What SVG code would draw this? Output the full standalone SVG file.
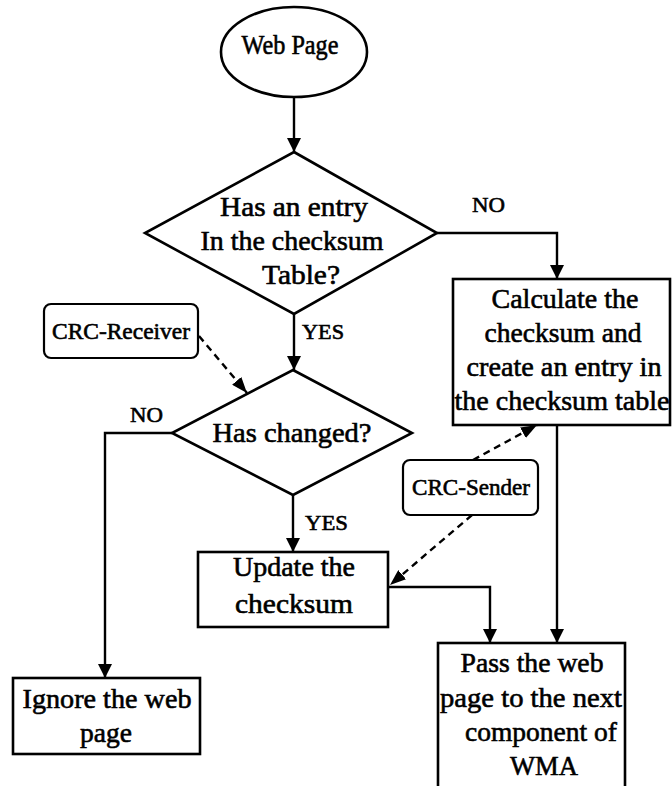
<svg xmlns="http://www.w3.org/2000/svg" width="672" height="786" viewBox="0 0 672 786">
  <style>
    .shape { fill: #fff; stroke: #000; stroke-width: 2.6; }
    .tag { fill: #fff; stroke: #000; stroke-width: 2.2; }
    text { font-family: 'Liberation Serif', 'Times New Roman', serif; fill: #000; stroke: #000; stroke-width: 0.6; }
    .txt { font-size: 28px; text-anchor: middle; }
    .small { font-size: 23px; }
    .lbl { font-size: 22px; }
    .flow { fill: none; stroke: #000; stroke-width: 2.4; marker-end: url(#head); }
    .dash { fill: none; stroke: #000; stroke-width: 2.4; stroke-dasharray: 7 5; marker-end: url(#dhead); }
  </style>
  <defs>
    <marker id="head" viewBox="0 0 14 14" refX="14" refY="7" markerWidth="14" markerHeight="14" markerUnits="userSpaceOnUse" orient="auto">
      <path d="M0,0 L14,7 L0,14 z" fill="#000" stroke="none"/>
    </marker>
    <marker id="dhead" viewBox="0 0 16 12" refX="16" refY="6" markerWidth="16" markerHeight="12" markerUnits="userSpaceOnUse" orient="auto">
      <path d="M0,0 L16,6 L0,12 z" fill="#000" stroke="none"/>
    </marker>
  </defs>

  <!-- connectors and their branch labels -->
  <g id="connectors">
    <path class="flow" d="M294,97 L294,152"/>
    <path class="flow" d="M437,233 L557,233 L557,279"/>
    <path class="flow" d="M294,314 L294,370"/>
    <path class="flow" d="M172,433 L105,433 L105,678"/>
    <path class="flow" d="M293,495 L293,552"/>
    <path class="flow" d="M388,587 L490,587 L490,643"/>
    <path class="flow" d="M557,425 L557,643"/>
    <path class="dash" d="M199,336 L247,393"/>
    <path class="dash" d="M473,460 L537,425"/>
    <path class="dash" d="M472,515 L390,585"/>
    <text class="lbl" x="472" y="212" textLength="33" lengthAdjust="spacingAndGlyphs">NO</text>
    <text class="lbl" x="302" y="339" textLength="42" lengthAdjust="spacingAndGlyphs">YES</text>
    <text class="lbl" x="130" y="422" textLength="33" lengthAdjust="spacingAndGlyphs">NO</text>
    <text class="lbl" x="305" y="530" textLength="43" lengthAdjust="spacingAndGlyphs">YES</text>
  </g>

  <g id="start">
    <ellipse class="shape" cx="294" cy="52" rx="73" ry="45"/>
    <text class="txt" x="290" y="54" font-size="24" textLength="97" lengthAdjust="spacingAndGlyphs">Web Page</text>
  </g>

  <g id="has-entry">
    <polygon class="shape" points="294,152 437,233 294,314 145,233"/>
    <text class="txt" x="294" y="216" textLength="148" lengthAdjust="spacingAndGlyphs">Has an entry</text>
    <text class="txt" x="292" y="250" textLength="183" lengthAdjust="spacingAndGlyphs">In the checksum</text>
    <text class="txt" x="301" y="284" textLength="78" lengthAdjust="spacingAndGlyphs">Table?</text>
  </g>

  <g id="calculate">
    <rect class="shape" x="453" y="279" width="217" height="146"/>
    <text class="txt" x="565" y="308" textLength="147" lengthAdjust="spacingAndGlyphs">Calculate the</text>
    <text class="txt" x="563" y="342" textLength="157" lengthAdjust="spacingAndGlyphs">checksum and</text>
    <text class="txt" x="564" y="376" textLength="195" lengthAdjust="spacingAndGlyphs">create an entry in</text>
    <text class="txt" x="562" y="410" textLength="215" lengthAdjust="spacingAndGlyphs">the checksum table</text>
  </g>

  <g id="crc-receiver">
    <rect class="tag" x="44" y="304" width="154" height="54" rx="7"/>
    <text class="txt small" x="121" y="339" textLength="138" lengthAdjust="spacingAndGlyphs">CRC-Receiver</text>
  </g>

  <g id="has-changed">
    <polygon class="shape" points="293,370 412,433 293,495 172,433"/>
    <text class="txt" x="292" y="442" textLength="159" lengthAdjust="spacingAndGlyphs">Has changed?</text>
  </g>

  <g id="crc-sender">
    <rect class="tag" x="403" y="460" width="135" height="55" rx="7"/>
    <text class="txt small" x="471" y="495" textLength="118" lengthAdjust="spacingAndGlyphs">CRC-Sender</text>
  </g>

  <g id="update">
    <rect class="shape" x="198" y="552" width="190" height="75"/>
    <text class="txt" x="294" y="576" textLength="122" lengthAdjust="spacingAndGlyphs">Update the</text>
    <text class="txt" x="294" y="613" textLength="118" lengthAdjust="spacingAndGlyphs">checksum</text>
  </g>

  <g id="ignore">
    <rect class="shape" x="13" y="678" width="187" height="76"/>
    <text class="txt" x="107" y="708" textLength="169" lengthAdjust="spacingAndGlyphs">Ignore the web</text>
    <text class="txt" x="106" y="742" textLength="52" lengthAdjust="spacingAndGlyphs">page</text>
  </g>

  <g id="pass">
    <rect class="shape" x="438" y="643" width="187" height="160"/>
    <text class="txt" x="532" y="672" textLength="143" lengthAdjust="spacingAndGlyphs">Pass the web</text>
    <text class="txt" x="531" y="707" textLength="182" lengthAdjust="spacingAndGlyphs">page to the next</text>
    <text class="txt" x="541" y="741" textLength="152" lengthAdjust="spacingAndGlyphs">component of</text>
    <text class="txt" x="544" y="775" textLength="68" lengthAdjust="spacingAndGlyphs">WMA</text>
  </g>
</svg>
